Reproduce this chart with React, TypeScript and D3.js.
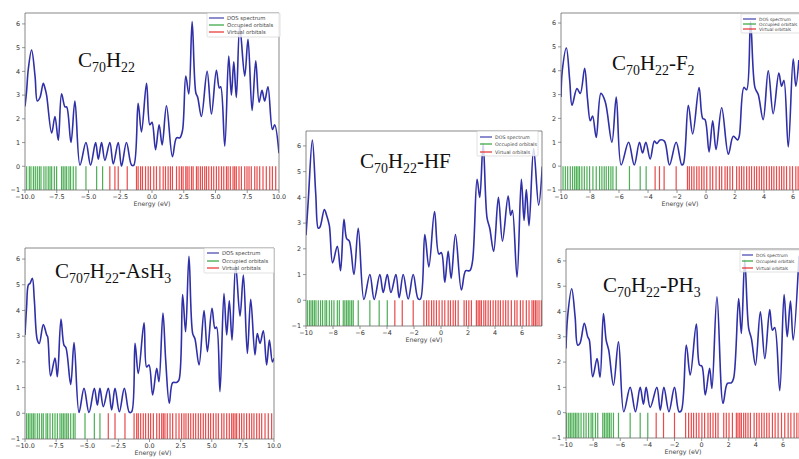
import React from 'react';
import * as d3 from 'd3';

type Pt = [number, number];

// DOS curves: [energy (eV), DOS]
const p1Dos: Pt[] = [[-10,2.52],[-9.87,3.2],[-9.74,4.1],[-9.48,4.9],[-9.21,3.8],[-9.03,2.75],[-8.82,2.9],[-8.56,3.5],[-8.43,3.3],[-8.3,3.0],[-7.9,1.4],[-7.64,2.1],[-7.38,1.1],[-7.12,3.05],[-6.85,2.5],[-6.72,2.5],[-6.38,1.0],[-6.07,2.75],[-5.67,0.05],[-5.2,1.0],[-4.84,0.05],[-4.44,1.0],[-4.23,0.3],[-3.97,1.0],[-3.71,0.25],[-3.32,1.0],[-3.05,0.1],[-2.66,1.0],[-2.4,0.0],[-2.01,1.0],[-1.61,0.05],[-1.43,0.05],[-1.09,2.65],[-0.83,1.45],[-0.43,3.5],[-0.17,1.75],[0.0,1.85],[0.28,0.7],[0.56,1.75],[0.8,0.9],[1.14,2.55],[1.61,0.4],[1.93,1.2],[2.19,1.2],[2.4,1.5],[2.66,3.8],[2.9,3.05],[3.16,6.1],[3.45,3.1],[3.6,2.9],[3.89,2.1],[4.34,4.0],[4.68,2.2],[5.07,4.05],[5.3,3.3],[5.41,3.35],[5.73,0.85],[6.04,4.65],[6.25,3.0],[6.44,4.4],[6.64,2.9],[6.91,5.9],[7.3,3.8],[7.56,5.35],[7.88,2.35],[8.17,4.45],[8.43,2.7],[8.66,3.2],[8.87,2.75],[9.13,3.35],[9.48,1.55],[9.66,1.75],[10,0.55]];
const p1Occupied = [-9.87,-9.66,-9.53,-9.34,-9.19,-9.03,-8.87,-8.74,-8.51,-8.35,-8.17,-8.03,-7.9,-7.69,-7.51,-7.12,-6.99,-6.85,-6.72,-6.54,-6.41,-6.2,-5.99,-5.2,-4.36,-3.89];
const p1Virtual = [-3.32,-2.92,-2.66,-1.95,-1.22,-1.09,-0.9,-0.75,-0.51,-0.3,-0.12,0.14,0.35,0.62,0.88,1.06,1.27,1.45,1.61,1.93,2.14,2.32,2.45,2.66,2.77,2.92,3.11,3.24,3.5,3.63,3.81,3.97,4.15,4.29,4.47,4.68,4.86,5.07,5.26,5.47,5.65,5.86,5.99,6.17,6.38,6.51,6.64,6.85,7.04,7.3,7.48,7.64,7.82,8.09,8.27,8.48,8.74,9.0,9.27,9.48,9.74];

const p2Dos: Pt[] = [[-10,2.53],[-9.83,3.9],[-9.53,6.23],[-9.28,4.15],[-9.09,2.8],[-8.96,2.85],[-8.64,3.53],[-8.47,3.3],[-8.27,2.9],[-8.03,1.45],[-7.68,2.1],[-7.44,1.15],[-7.19,3.15],[-6.99,2.4],[-6.79,2.3],[-6.45,1.0],[-6.13,2.8],[-5.71,0.03],[-5.27,1.0],[-4.95,0.03],[-4.53,1.0],[-4.28,0.3],[-3.98,1.0],[-3.71,0.3],[-3.34,1.0],[-3.1,0.1],[-2.8,1.0],[-2.43,0.05],[-2.06,1.0],[-1.69,0.05],[-1.52,0.05],[-1.2,2.55],[-0.9,1.3],[-0.48,3.45],[-0.16,1.8],[0.03,1.85],[0.28,0.7],[0.53,1.9],[0.75,0.85],[1.07,2.55],[1.51,0.4],[1.83,1.15],[2.13,1.15],[2.33,1.5],[2.67,4.7],[2.87,4.0],[3.12,6.1],[3.41,3.2],[3.61,2.8],[3.9,1.9],[4.25,4.0],[4.55,2.3],[4.97,4.05],[5.16,3.3],[5.29,3.5],[5.63,0.9],[5.95,4.7],[6.15,3.1],[6.32,4.3],[6.52,2.9],[6.86,5.9],[7.23,3.7],[7.5,5.2]];
const p2Occupied = [-9.9,-9.75,-9.63,-9.51,-9.38,-9.26,-9.09,-8.92,-8.77,-8.59,-8.47,-8.27,-8.1,-7.93,-7.68,-7.53,-7.24,-7.12,-6.99,-6.87,-6.75,-6.62,-6.5,-6.13,-5.27,-4.58,-3.98];
const p2Virtual = [-3.42,-2.87,-2.06,-1.27,-1.07,-0.9,-0.7,-0.53,-0.34,-0.14,0.08,0.28,0.53,0.7,0.9,1.07,1.27,1.71,1.88,2.06,2.25,2.62,2.75,2.87,2.99,3.17,3.31,3.49,3.66,3.86,4.05,4.23,4.4,4.6,4.79,4.97,5.21,5.46,5.63,5.88,6.07,6.32,6.52,6.74,6.86,6.99,7.11,7.26,7.43];

const p3Dos: Pt[] = [[-10,2.9],[-9.91,4.0],[-9.63,4.95],[-9.4,3.6],[-9.24,2.55],[-8.9,3.25],[-8.67,3.05],[-8.37,4.1],[-8.17,2.8],[-7.98,1.9],[-7.82,2.1],[-7.57,1.2],[-7.25,3.05],[-6.95,2.7],[-6.49,1.0],[-6.19,2.9],[-5.85,0.05],[-5.34,1.0],[-4.95,0.05],[-4.59,1.0],[-4.38,0.55],[-4.15,1.0],[-3.85,0.3],[-3.56,1.05],[-3.39,0.95],[-3.17,1.1],[-2.87,1.05],[-2.52,0.05],[-2.06,1.0],[-1.67,0.05],[-1.56,0.1],[-1.22,2.55],[-0.92,1.35],[-0.48,3.3],[-0.23,2.0],[-0.07,1.95],[0.21,0.6],[0.46,1.9],[0.69,0.7],[1.08,2.45],[1.54,0.5],[1.88,1.25],[2.18,1.1],[2.29,1.25],[2.61,3.3],[2.8,3.2],[3.07,6.05],[3.37,3.3],[3.6,3.0],[3.94,1.95],[4.29,4.0],[4.63,2.2],[5.02,3.9],[5.21,3.35],[5.37,3.6],[5.67,0.8],[6.01,4.5],[6.19,3.35],[6.4,4.45]];
const p3Occupied = [-9.86,-9.7,-9.54,-9.36,-9.2,-9.06,-8.94,-8.83,-8.72,-8.56,-8.39,-8.21,-8.03,-7.8,-7.57,-7.34,-7.18,-7.02,-6.88,-6.72,-6.56,-6.42,-6.19,-5.28,-4.54,-4.13];
const p3Virtual = [-3.51,-3.21,-2.89,-2.06,-1.28,-1.15,-0.99,-0.83,-0.64,-0.48,-0.3,-0.14,0.05,0.28,0.46,0.69,0.92,1.08,1.31,1.47,1.65,1.83,2.11,2.29,2.45,2.61,2.8,2.98,3.14,3.33,3.49,3.67,3.83,3.99,4.17,4.36,4.52,4.68,4.86,5.05,5.21,5.37,5.55,5.78,5.96,6.19,6.35];

const p4Dos: Pt[] = [[-10,3.05],[-9.87,4.15],[-9.73,5.0],[-9.6,5.05],[-9.41,5.25],[-9.25,4.4],[-9.01,2.85],[-8.85,2.72],[-8.53,3.45],[-8.26,3.05],[-8.18,2.98],[-7.94,1.45],[-7.59,2.15],[-7.4,1.42],[-7.11,3.67],[-6.87,2.65],[-6.71,2.55],[-6.33,1.12],[-6.06,2.75],[-5.66,0.03],[-5.26,0.97],[-4.86,0.03],[-4.43,0.97],[-4.19,0.32],[-3.98,0.97],[-3.71,0.26],[-3.31,0.97],[-3.04,0.13],[-2.77,0.97],[-2.42,0.06],[-2.02,0.97],[-1.62,0.04],[-1.43,0.06],[-1.16,2.72],[-0.9,1.55],[-0.44,3.52],[-0.23,1.8],[-0.04,1.88],[0.25,0.71],[0.58,1.75],[0.76,1.23],[1.08,3.9],[1.3,2.07],[1.59,0.39],[1.86,1.19],[2.18,1.2],[2.37,1.3],[2.66,4.62],[2.9,3.17],[3.17,6.11],[3.47,3.1],[3.65,2.9],[3.98,1.88],[4.38,4.0],[4.65,2.4],[5.02,4.08],[5.26,3.3],[5.39,3.35],[5.66,0.84],[5.98,4.66],[6.2,3.05],[6.41,4.38],[6.63,2.85],[6.92,5.76],[7.27,3.78],[7.54,5.38],[7.86,2.33],[8.13,4.43],[8.47,2.27],[8.66,3.1],[8.88,2.72],[9.14,3.21],[9.41,1.88],[9.63,2.85],[9.87,2.0],[10,2.14]];
const p4Occupied = [-9.87,-9.73,-9.6,-9.46,-9.33,-9.2,-9.01,-8.85,-8.66,-8.53,-8.31,-8.18,-7.99,-7.78,-7.59,-7.4,-7.19,-7.05,-6.92,-6.79,-6.65,-6.52,-6.33,-6.12,-5.98,-5.18,-4.43,-3.98];
const p4Virtual = [-3.31,-2.77,-1.97,-1.24,-1.03,-0.9,-0.71,-0.5,-0.31,-0.09,0.09,0.31,0.58,0.79,0.98,1.11,1.24,1.43,1.65,1.86,2.13,2.37,2.58,2.77,2.93,3.12,3.31,3.52,3.71,3.92,4.11,4.32,4.51,4.73,4.91,5.13,5.34,5.53,5.8,5.98,6.2,6.41,6.6,6.73,6.87,7.0,7.22,7.4,7.59,7.8,8.02,8.21,8.39,8.61,8.82,9.01,9.28,9.54,9.81];

const p5Dos: Pt[] = [[-10,2.54],[-9.88,3.8],[-9.58,4.9],[-9.33,3.8],[-9.14,2.67],[-8.97,2.74],[-8.65,3.53],[-8.4,3.0],[-8.28,2.87],[-8.03,1.42],[-7.71,2.14],[-7.49,1.4],[-7.24,3.92],[-7.04,2.87],[-6.85,2.47],[-6.5,1.09],[-6.13,2.8],[-5.74,0.04],[-5.27,1.0],[-4.88,0.04],[-4.53,1.0],[-4.29,0.34],[-4.09,1.0],[-3.79,0.21],[-3.3,1.0],[-3.05,0.1],[-2.78,1.0],[-2.41,0.04],[-2.0,1.0],[-1.67,0.04],[-1.5,0.08],[-1.13,2.67],[-0.84,1.49],[-0.39,3.5],[-0.15,1.88],[0.02,1.84],[0.27,0.7],[0.59,1.75],[0.76,0.96],[1.13,4.58],[1.58,0.37],[1.9,1.16],[2.19,1.18],[2.36,1.36],[2.73,4.51],[2.93,3.13],[3.18,6.03],[3.47,3.33],[3.67,2.93],[3.97,1.88],[4.33,3.99],[4.66,2.14],[5.02,4.08],[5.22,3.26],[5.39,3.37],[5.76,0.87],[6.08,4.67],[6.31,3.0],[6.55,4.41],[6.75,2.87],[7.18,6.2]];
const p5Occupied = [-9.95,-9.8,-9.68,-9.56,-9.43,-9.31,-9.19,-9.06,-8.89,-8.69,-8.52,-8.33,-8.15,-8.03,-7.83,-7.66,-7.29,-7.17,-7.04,-6.92,-6.8,-6.67,-6.5,-6.13,-5.27,-4.53,-3.97];
const p5Virtual = [-3.35,-2.81,-2.0,-1.18,-0.96,-0.76,-0.59,-0.39,-0.2,0.02,0.22,0.47,0.64,0.84,1.03,1.21,1.63,1.82,2.02,2.27,2.56,2.68,2.81,2.93,3.1,3.25,3.42,3.6,3.87,4.06,4.24,4.43,4.61,4.8,4.98,5.22,5.42,5.64,5.89,6.13,6.38,6.58,6.82,7.02,7.19];

const yTicks = [-1, 0, 1, 2, 3, 4, 5, 6];
const xTicksQuarter = [-10, -7.5, -5, -2.5, 0, 2.5, 5, 7.5, 10];
const xTicksEven = [-10, -8, -6, -4, -2, 0, 2, 4, 6];
const legendLabels = ['DOS spectrum', 'Occupied orbitals', 'Virtual orbitals'];

// title pieces: [text, isSubscript]
type Piece = [string, boolean];

const panels = [
  { id: 'p1', dos: p1Dos, occ: p1Occupied, vir: p1Virtual, xMax: 10, yMax: 6.46, left: 25, right: 279, top: 13, bottom: 190,
    xTicks: xTicksQuarter, fmt: d3.format('.1f'), labelX: 152, rightSpine: true,
    title: [['C', false], ['70', true], ['H', false], ['22', true]] as Piece[], tx: 78, ty: 67, tfs: 21,
    lg: { x0: 207, x1: 280, y0: 13, y1: 37, rows: [18, 25, 32], lx: 209, lw: 15, fs: 5.3 } },
  { id: 'p2', dos: p2Dos, occ: p2Occupied, vir: p2Virtual, xMax: 7.48, yMax: 6.58, left: 306, right: 542, top: 131, bottom: 326,
    xTicks: xTicksEven, fmt: d3.format('d'), labelX: 424, rightSpine: true,
    title: [['C', false], ['70', true], ['H', false], ['22', true], ['-HF', false]] as Piece[], tx: 360, ty: 168, tfs: 21,
    lg: { x0: 477, x1: 538, y0: 131, y1: 156, rows: [137, 144, 152], lx: 480, lw: 12, fs: 4.8 } },
  { id: 'p3', dos: p3Dos, occ: p3Occupied, vir: p3Virtual, xMax: 6.41, yMax: 6.42, left: 561, right: 799, top: 13, bottom: 190,
    xTicks: xTicksEven, fmt: d3.format('d'), labelX: 680, rightSpine: false,
    title: [['C', false], ['70', true], ['H', false], ['22', true], ['-F', false], ['2', true]] as Piece[], tx: 612, ty: 70, tfs: 21,
    lg: { x0: 741, x1: 802, y0: 14, y1: 33, rows: [19, 24, 29], lx: 743, lw: 13, fs: 4.4 } },
  { id: 'p4', dos: p4Dos, occ: p4Occupied, vir: p4Virtual, xMax: 10, yMax: 6.43, left: 25, right: 274, top: 248, bottom: 439,
    xTicks: xTicksQuarter, fmt: d3.format('.1f'), labelX: 153, rightSpine: true,
    title: [['C', false], ['707', true], ['H', false], ['22', true], ['-AsH', false], ['3', true]] as Piece[], tx: 55, ty: 278, tfs: 21,
    lg: { x0: 204, x1: 274, y0: 248, y1: 273, rows: [253, 261, 268], lx: 207, lw: 12, fs: 5.3 } },
  { id: 'p5', dos: p5Dos, occ: p5Occupied, vir: p5Virtual, xMax: 7.18, yMax: 6.47, left: 566, right: 799, top: 249, bottom: 438,
    xTicks: xTicksEven, fmt: d3.format('d'), labelX: 683, rightSpine: false,
    title: [['C', false], ['70', true], ['H', false], ['22', true], ['-PH', false], ['3', true]] as Piece[], tx: 603, ty: 292, tfs: 21,
    lg: { x0: 740, x1: 802, y0: 250, y1: 272, rows: [255, 261, 268], lx: 742, lw: 11, fs: 4.4 } },
];

const minus = (s: string) => s.replace('-', '\u2212');
const tickFont = 'DejaVu Sans, sans-serif';
const blue = '#2f2fa8';
const green = '#1f9a2a';
const red = '#e41d1d';

function Panel({ p }: { p: typeof panels[number] }) {
  const x = d3.scaleLinear().domain([-10, p.xMax]).range([p.left, p.right]);
  const y = d3.scaleLinear().domain([-1, p.yMax]).range([p.bottom, p.top]);
  const line = d3.line<Pt>().x(d => x(d[0])).y(d => y(d[1])).curve(d3.curveCatmullRom.alpha(0.5));
  const clip = `clip-${p.id}`;
  const axisColor = '#6b6b6b';

  let shift = 0;
  const tspans = p.title.map(([t, sub], i) => {
    const dy = (sub ? 4.5 : 0) - shift;
    shift = sub ? 4.5 : 0;
    return <tspan key={i} dy={dy} fontSize={sub ? p.tfs * 0.66 : p.tfs}>{t}</tspan>;
  });

  return (
    <g>
      <defs>
        <clipPath id={clip}>
          <rect x={p.left} y={p.top} width={p.right - p.left} height={p.bottom - p.top} />
        </clipPath>
      </defs>
      <g clipPath={`url(#${clip})`}>
        {p.occ.map((e, i) => (
          <line key={'o' + i} x1={x(e)} x2={x(e)} y1={y(-1)} y2={y(0)} stroke={green} strokeWidth={1.2} strokeOpacity={0.8} />
        ))}
        {p.vir.map((e, i) => (
          <line key={'v' + i} x1={x(e)} x2={x(e)} y1={y(-1)} y2={y(0)} stroke={red} strokeWidth={1.2} strokeOpacity={0.8} />
        ))}
        <path d={line(p.dos) ?? ''} fill="none" stroke={blue} strokeWidth={1.6} strokeLinejoin="round" />
      </g>

      {/* spines */}
      <line x1={p.left} x2={p.left} y1={p.top} y2={p.bottom} stroke={axisColor} strokeWidth={0.8} />
      <line x1={p.left} x2={p.right} y1={p.bottom} y2={p.bottom} stroke={axisColor} strokeWidth={0.8} />
      <line x1={p.left} x2={p.right} y1={p.top} y2={p.top} stroke={axisColor} strokeWidth={0.8} />
      {p.rightSpine && <line x1={p.right} x2={p.right} y1={p.top} y2={p.bottom} stroke={axisColor} strokeWidth={0.8} />}

      {/* y axis */}
      {yTicks.map(t => (
        <g key={'y' + t}>
          <line x1={p.left - 3} x2={p.left} y1={y(t)} y2={y(t)} stroke={axisColor} strokeWidth={0.7} />
          <text x={p.left - 5} y={y(t)} dy="0.35em" textAnchor="end" fontSize={6.4} fontFamily={tickFont} fill="#333">
            {minus(String(t))}
          </text>
        </g>
      ))}

      {/* x axis */}
      {p.xTicks.filter(t => t <= p.xMax + 0.01).map(t => (
        <g key={'x' + t}>
          <line x1={x(t)} x2={x(t)} y1={p.bottom} y2={p.bottom + 3} stroke={axisColor} strokeWidth={0.7} />
          <text x={x(t)} y={p.bottom + 9} textAnchor="middle" fontSize={6.4} fontFamily={tickFont} fill="#333">
            {minus(p.fmt(t))}
          </text>
        </g>
      ))}
      <text x={p.labelX} y={p.bottom + 16} textAnchor="middle" fontSize={6.3} fontFamily={tickFont} fill="#444">
        Energy (eV)
      </text>

      {/* legend */}
      <rect x={p.lg.x0} y={p.lg.y0} width={p.lg.x1 - p.lg.x0} height={p.lg.y1 - p.lg.y0} rx={1}
        fill="#fff" fillOpacity={0.8} stroke="#cfcfcf" strokeWidth={0.6} />
      {legendLabels.map((lab, i) => (
        <g key={lab}>
          <line x1={p.lg.lx} x2={p.lg.lx + p.lg.lw} y1={p.lg.rows[i]} y2={p.lg.rows[i]}
            stroke={[blue, green, red][i]} strokeWidth={1.1} />
          <text x={p.lg.lx + p.lg.lw + 3} y={p.lg.rows[i]} dy="0.35em" fontSize={p.lg.fs} fontFamily={tickFont} fill="#444">
            {lab}
          </text>
        </g>
      ))}

      {/* title */}
      <text x={p.tx} y={p.ty} fontFamily="Liberation Serif, Times New Roman, serif" fill="#111">
        {tspans}
      </text>
    </g>
  );
}

export default function App() {
  return (
    <svg width={799} height={459} style={{ position: 'absolute', left: 0, top: 0, background: '#fff' }}>
      <rect width={799} height={459} fill="#fff" />
      {panels.map(p => <Panel key={p.id} p={p} />)}
    </svg>
  );
}
